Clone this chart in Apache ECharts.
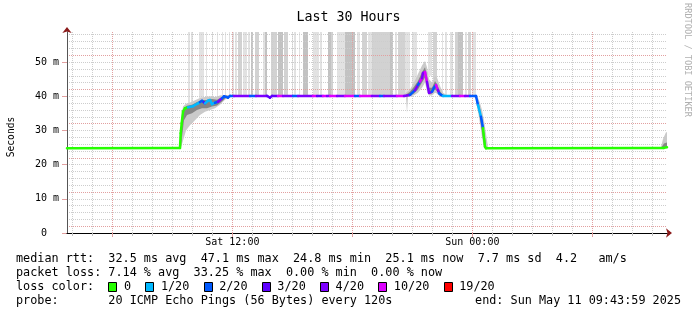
<!DOCTYPE html>
<html><head><meta charset="utf-8">
<script src="https://cdn.jsdelivr.net/npm/echarts@6.0.0/dist/echarts.min.js"></script>
<style>html,body{margin:0;padding:0;background:#fff;}#c{width:697px;height:315px;}</style>
</head><body><div id="c"></div>
<script>
// ---- text ----
const titleText = 'Last 30 Hours';
const yAxisName = 'Seconds';
const vendorText = 'RRDTOOL / TOBI OETIKER';
const legendRtt = 'median rtt:  32.5 ms avg  47.1 ms max  24.8 ms min  25.1 ms now  7.7 ms sd  4.2   am/s';
const legendLoss = 'packet loss: 7.14 % avg  33.25 % max  0.00 % min  0.00 % now';
const legendColorTitle = 'loss color:';
const legendProbe = 'probe:       20 ICMP Echo Pings (56 Bytes) every 120s';
const legendEnd = 'end: Sun May 11 09:43:59 2025';

// ---- axes (x in hours since Sat 00:00, y in ms) ----
const windowStart = 3.7331;   // Sat 03:43:59
const windowEnd = 33.7331;    // Sun 09:43:59
const yMax = 58.8;
const yLabelValues = [0, 10, 20, 30, 40, 50];
const xMinorHours = [4,5,7,8,9,10,11,13,14,15,16,17,19,20,21,22,23,25,26,27,28,29,31,32,33];
const xMajorHours = [6, 12, 18, 24, 30];
const xLabelHours = [12, 24];
const xLabelTexts = ['Sat 12:00', 'Sun 00:00'];

// ---- loss colours ----
const lossLabels = ['0', '1/20', '2/20', '3/20', '4/20', '10/20', '19/20'];
const lossThresholds = [0, 1, 2, 3, 4, 10, 19];
const lossColors = ['#26ff00', '#00b8ff', '#0059ff', '#5e00ff', '#7e00ff', '#dd00ff', '#ff0000'];

// ---- median rtt: [hour, ms, lost pings] ----
const median = [
  [3.733,24.8,0],[9.383,24.9,0],[9.418,29.2,0],[9.468,32.1,0],[9.533,35.5,0],[9.633,36.5,0],
  [9.783,36.8,1],[9.883,36.9,1],[10.033,37.1,1],[10.283,37.9,1],[10.383,38.3,2],[10.483,38.7,2],
  [10.583,38.2,3],[10.633,37.9,1],[10.783,38.7,1],[10.883,38.9,1],[10.983,37.7,1],[11.133,38.1,2],
  [11.283,38.4,4],[11.383,38.9,4],[11.483,39.4,2],[11.583,40.0,2],[11.783,39.6,2],[11.883,40.1,2],
  [12.083,40.1,4],[12.883,40.1,2],[13.183,40.1,4],[13.733,40.1,3],[13.883,39.6,3],[13.983,40.1,3],
  [14.283,40.1,10],[14.533,40.1,4],[15.033,40.1,2],[15.283,40.1,4],[16.033,40.1,10],[16.233,40.1,3],
  [16.533,40.1,10],[16.733,40.1,4],[16.883,40.1,10],[17.233,40.1,4],[17.633,40.1,10],[18.133,40.1,2],
  [18.383,40.1,10],[18.983,40.1,4],[19.383,40.1,2],[19.583,40.1,4],[20.233,40.1,10],[20.583,40.1,4],
  [20.883,40.4,2],[21.133,41.8,4],[21.283,43.3,2],[21.383,44.3,10],[21.483,45.3,4],[21.533,46.8,4],
  [21.633,47.1,10],[21.733,44.2,4],[21.833,41.0,4],[21.983,41.3,2],[22.083,42.5,2],[22.183,43.3,10],
  [22.283,41.8,4],[22.333,40.9,2],[22.433,40.4,2],[22.533,40.1,1],[22.983,40.1,4],[23.383,40.1,10],
  [23.633,40.1,4],[23.883,40.1,2],[24.183,40.1,2],[24.283,37.4,1],[24.433,34.0,2],[24.533,30.7,0],
  [24.633,25.2,0],[24.683,24.8,0],[33.583,24.9,0],[33.733,25.1,0]
];

// ---- smoke bands: [hour, low ms, high ms] ----
const smokeOuter = [
  [[9.383,24.8,25.5],[9.433,25,33],[9.533,27,37],[9.683,30,37.8],[9.883,31.5,38.2],[10.133,33,38.8],
   [10.383,34.5,39.5],[10.633,35.5,39.8],[10.883,36,40],[11.133,36.5,39.8],[11.383,37.5,40.2],
   [11.633,39,40.4],[11.883,40,40.2]],
  [[20.533,39.8,40.3],[20.683,39.7,41],[20.733,35,41.3],[20.783,39.8,41.5],[20.883,39.9,42],
   [21.083,40.3,44],[21.283,41,46.5],[21.483,42.5,49],[21.633,44,50.3],[21.733,41.5,48.5],
   [21.833,40.2,45],[21.983,40.2,44],[22.133,41,46],[22.233,40.8,45.5],[22.383,39.8,43],
   [22.533,39.8,41],[22.733,40,40.3]],
  [[24.083,40,40.3],[24.183,39,40.3],[24.283,35.5,39.5],[24.383,32,38],[24.483,28,36],
   [24.583,25,33],[24.683,24.8,29],[24.783,24.8,25.2]],
  [[33.433,24.8,25.2],[33.533,24.9,27.5],[33.683,25,29.5],[33.733,25,29.5]]
];
const smokeInner = [
  [[9.383,24.8,25],[9.433,25,31],[9.483,28,34],[9.583,33,36.5],[9.733,34.5,37.2],[9.983,35,37.5],
   [10.233,36,38.3],[10.483,36.5,38.9],[10.733,36.5,38.9],[10.983,37,39.2],[11.233,37.3,39],
   [11.483,38.5,39.8],[11.683,39.6,40.2],[11.833,40,40.1]],
  [[20.683,39.9,40.5],[20.883,40.1,41.3],[21.083,40.8,42.8],[21.283,42,44.5],[21.483,44,47],
   [21.633,45.5,48.5],[21.733,42.5,46],[21.833,40.6,42.5],[21.983,40.8,42.5],[22.133,42,44.5],
   [22.233,41.5,43.5],[22.383,40.2,41.5],[22.533,40,40.3]],
  [[24.183,39.5,40.2],[24.283,36.5,38.5],[24.383,33.5,36.5],[24.483,29.5,33],[24.583,25.5,30],
   [24.683,24.8,26]],
  [[33.483,24.9,25.3],[33.583,25,26.2],[33.733,25.1,26.5]]
];

// ---- lost-ping bars: [from hour, to hour, base ms, shade] ----
const lossBars = [
  [9.78,9.86,37.8,0],[9.93,10.03,38.0,0],[10.33,10.58,39.3,0],[10.68,10.73,39.6,0],[10.98,11.03,39.6,0],
  [11.23,11.28,39.8,0],[11.48,11.53,40.0,0],[11.63,11.68,40.2,0],[11.83,11.88,40.2,0],[11.98,12.08,40.2,0],
  [12.13,12.23,40.2,0],[12.28,12.48,40.2,1],[12.53,12.73,40.2,0],[12.78,12.86,40.2,0],[12.93,13.03,40.2,2],
  [13.13,13.33,40.2,1],[13.53,13.63,40.2,0],[13.63,13.73,40.2,2],[13.93,14.23,40.2,1],[14.28,14.53,40.2,2],
  [14.58,14.78,40.2,1],[14.98,15.03,40.2,0],[15.08,15.18,40.2,0],[15.33,15.38,40.2,0],[15.53,15.78,40.2,2],
  [16.03,16.33,40.2,0],[16.38,16.48,40.2,0],[16.78,16.93,40.2,2],[16.93,17.03,40.2,1],[17.23,17.63,40.2,0],
  [17.63,18.13,40.2,2],[18.23,18.38,40.2,0],[18.48,18.73,40.2,1],[18.78,18.98,40.2,0],[18.98,19.88,40.2,1],
  [19.88,20.03,40.2,2],[20.13,20.23,40.2,0],[20.28,20.63,40.2,1],[20.63,20.88,40.5,0],[20.98,21.23,43.0,0],
  [21.78,21.98,46.0,0],[22.03,22.23,45.0,1],[22.48,22.53,41.0,0],[22.63,22.73,40.2,0],[22.88,23.03,40.2,0],
  [23.13,23.28,40.2,1],[23.28,23.53,40.2,2],[23.63,23.73,40.2,0],[23.78,23.93,40.2,1],[23.98,24.16,40.2,0]
];
const barShades = ['#e2e2e2', '#d2d2d2', '#c2c2c2'];

// ---- styling ----
const FONT = 'DejaVu Sans Mono';
const minorGrid = '#cdcdcd';
const majorGrid = '#e2a0a0';
const arrowColor = '#8b1a1a';

function lossColor(n) {
  let c = lossColors[0];
  for (let i = 0; i < lossThresholds.length; i++) if (n >= lossThresholds[i]) c = lossColors[i];
  return c;
}

function bandSeries(bands, color, z) {
  return {
    type: 'custom', z, silent: true,
    data: bands.map((b, i) => [b[0][0], b[0][1], i]),
    renderItem: (params, api) => {
      const band = bands[params.dataIndex];
      const top = band.map(p => api.coord([p[0], p[2]]));
      const bot = band.map(p => api.coord([p[0], p[1]])).reverse();
      return { type: 'polygon', shape: { points: top.concat(bot) }, style: { fill: color } };
    }
  };
}

const chart = echarts.init(document.getElementById('c'), null, { renderer: 'canvas' });

// monospace char width for legend layout
const mctx = document.createElement('canvas').getContext('2d');
const LFS = 11.8;
mctx.font = LFS + 'px "' + FONT + '"';
const cw = mctx.measureText('MMMMMMMMMM').width / 10;
const lx = 16;

const graphics = [
  { type: 'text', x: 11, y: 137, rotation: Math.PI / 2,
    style: { text: yAxisName, fontFamily: FONT, fontSize: 9.6, fill: '#000', align: 'center', verticalAlign: 'middle' } },
  { type: 'text', x: 687, y: 60, rotation: -Math.PI / 2,
    style: { text: vendorText, fontFamily: FONT, fontSize: 8.6, fill: '#b0b0b0', align: 'center', verticalAlign: 'middle' } },
  { type: 'text', x: lx, y: 259, style: { text: legendRtt, fontFamily: FONT, fontSize: LFS, fill: '#000', align: 'left', verticalAlign: 'middle' } },
  { type: 'text', x: lx, y: 273, style: { text: legendLoss, fontFamily: FONT, fontSize: LFS, fill: '#000', align: 'left', verticalAlign: 'middle' } },
  { type: 'text', x: lx, y: 287, style: { text: legendColorTitle, fontFamily: FONT, fontSize: LFS, fill: '#000', align: 'left', verticalAlign: 'middle' } },
  { type: 'text', x: lx, y: 301, style: { text: legendProbe, fontFamily: FONT, fontSize: LFS, fill: '#000', align: 'left', verticalAlign: 'middle' } },
  { type: 'text', x: 681, y: 301, style: { text: legendEnd, fontFamily: FONT, fontSize: LFS, fill: '#000', align: 'right', verticalAlign: 'middle' } }
];
let cur = lx + 13 * cw;
lossLabels.forEach((lab, i) => {
  const bx = Math.round(cur) + 0.5;
  graphics.push({ type: 'rect', shape: { x: bx, y: 282.5, width: 8, height: 9 },
    style: { fill: lossColors[i], stroke: '#000', lineWidth: 1 } });
  const tx = cur + 1.2 * cw + cw;
  graphics.push({ type: 'text', x: tx, y: 287,
    style: { text: lab, fontFamily: FONT, fontSize: LFS, fill: '#000', align: 'left', verticalAlign: 'middle' } });
  cur = tx + lab.length * cw + 2 * cw;
});

const option = {
  animation: false,
  backgroundColor: '#ffffff',
  title: { text: titleText, left: 'center', top: 6,
    textStyle: { fontFamily: FONT, fontSize: 13.3, fontWeight: 'normal', color: '#000' } },
  grid: { left: 67, right: 30, top: 32, bottom: 82 },
  xAxis: [{
    // minor hourly grid + labels
    type: 'value', position: 'bottom', min: windowStart, max: windowEnd, z: 2,
    axisLine: { show: true, lineStyle: { color: '#000', width: 1 } },
    axisTick: { show: true, customValues: xMinorHours, length: 3, lineStyle: { color: '#c0c0c0' } },
    axisLabel: { customValues: xLabelHours, formatter: v => { const k = xLabelHours.indexOf(v); return k >= 0 ? xLabelTexts[k] : ''; },
      fontFamily: FONT, fontSize: 10, color: '#000', margin: 4 },
    splitLine: { show: true, showMinLine: true, showMaxLine: true,
      lineStyle: { color: minorGrid, type: [1, 1], width: 1 } }
  }, {
    // arrow
    type: 'value', position: 'bottom', min: windowStart, max: windowEnd, z: 1,
    axisLine: { show: true, symbol: ['none', 'arrow'], symbolSize: [7, 6], symbolOffset: [0, 5], lineStyle: { color: arrowColor } },
    axisTick: { show: false }, axisLabel: { show: false }, splitLine: { show: false }
  }, {
    // major 6-hourly grid
    type: 'value', position: 'bottom', min: windowStart, max: windowEnd, z: 2,
    axisLine: { show: false },
    axisTick: { show: true, customValues: xMajorHours, length: 4, lineStyle: { color: majorGrid } },
    axisLabel: { show: false },
    splitLine: { show: true, showMinLine: true, showMaxLine: true,
      lineStyle: { color: majorGrid, type: [1, 1], width: 1 } }
  }],
  yAxis: [{
    type: 'value', position: 'left', min: 0, max: yMax, interval: 2, z: 2,
    axisLine: { show: true, lineStyle: { color: '#555' } },
    axisTick: { show: false },
    axisLabel: { formatter: v => yLabelValues.indexOf(v) >= 0 ? (v === 0 ? '0\u00a0\u00a0' : v + ' m') : '',
      fontFamily: FONT, fontSize: 10, color: '#000', margin: 8, showMaxLabel: false },
    splitLine: { show: true, showMinLine: false, showMaxLine: false,
      lineStyle: { color: [majorGrid, minorGrid, minorGrid, minorGrid, minorGrid], type: [1, 1], width: 1 } }
  }, {
    type: 'value', position: 'left', min: 0, max: yMax, z: 1,
    axisLine: { show: true, symbol: ['none', 'arrow'], symbolSize: [7, 6], symbolOffset: [0, 5], lineStyle: { color: arrowColor } },
    axisTick: { show: true, customValues: yLabelValues, length: 5, lineStyle: { color: majorGrid } },
    axisLabel: { show: false }, splitLine: { show: false }
  }],
  graphic: graphics,
  series: [
    {
      type: 'custom', z: 1, silent: true, data: lossBars, encode: { x: [0, 1], y: 2 },
      renderItem: (params, api) => {
        const a = api.coord([api.value(0), yMax]);
        const b = api.coord([api.value(1), api.value(2)]);
        const x0 = Math.round(a[0]), x1 = Math.max(x0 + 1, Math.round(b[0]));
        return { type: 'rect', shape: { x: x0, y: a[1], width: x1 - x0, height: b[1] - a[1] },
          style: { fill: barShades[api.value(3)] } };
      }
    },
    bandSeries(smokeOuter, '#cacaca', 3),
    bandSeries(smokeInner, '#858585', 3),
    {
      type: 'custom', z: 4, silent: true,
      data: median.map((p, i) => [p[0], p[1], i]),
      renderItem: (params, api) => {
        const i = params.dataIndex;
        if (i >= median.length - 1) return { type: 'group', children: [] };
        const p = api.coord([median[i][0], median[i][1]]);
        const q = api.coord([median[i + 1][0], median[i + 1][1]]);
        return { type: 'line', shape: { x1: p[0], y1: p[1], x2: q[0], y2: q[1] },
          style: { stroke: lossColor(median[i][2]), lineWidth: 2.5, lineCap: 'round' } };
      }
    }
  ]
};
chart.setOption(option);
</script></body></html>
